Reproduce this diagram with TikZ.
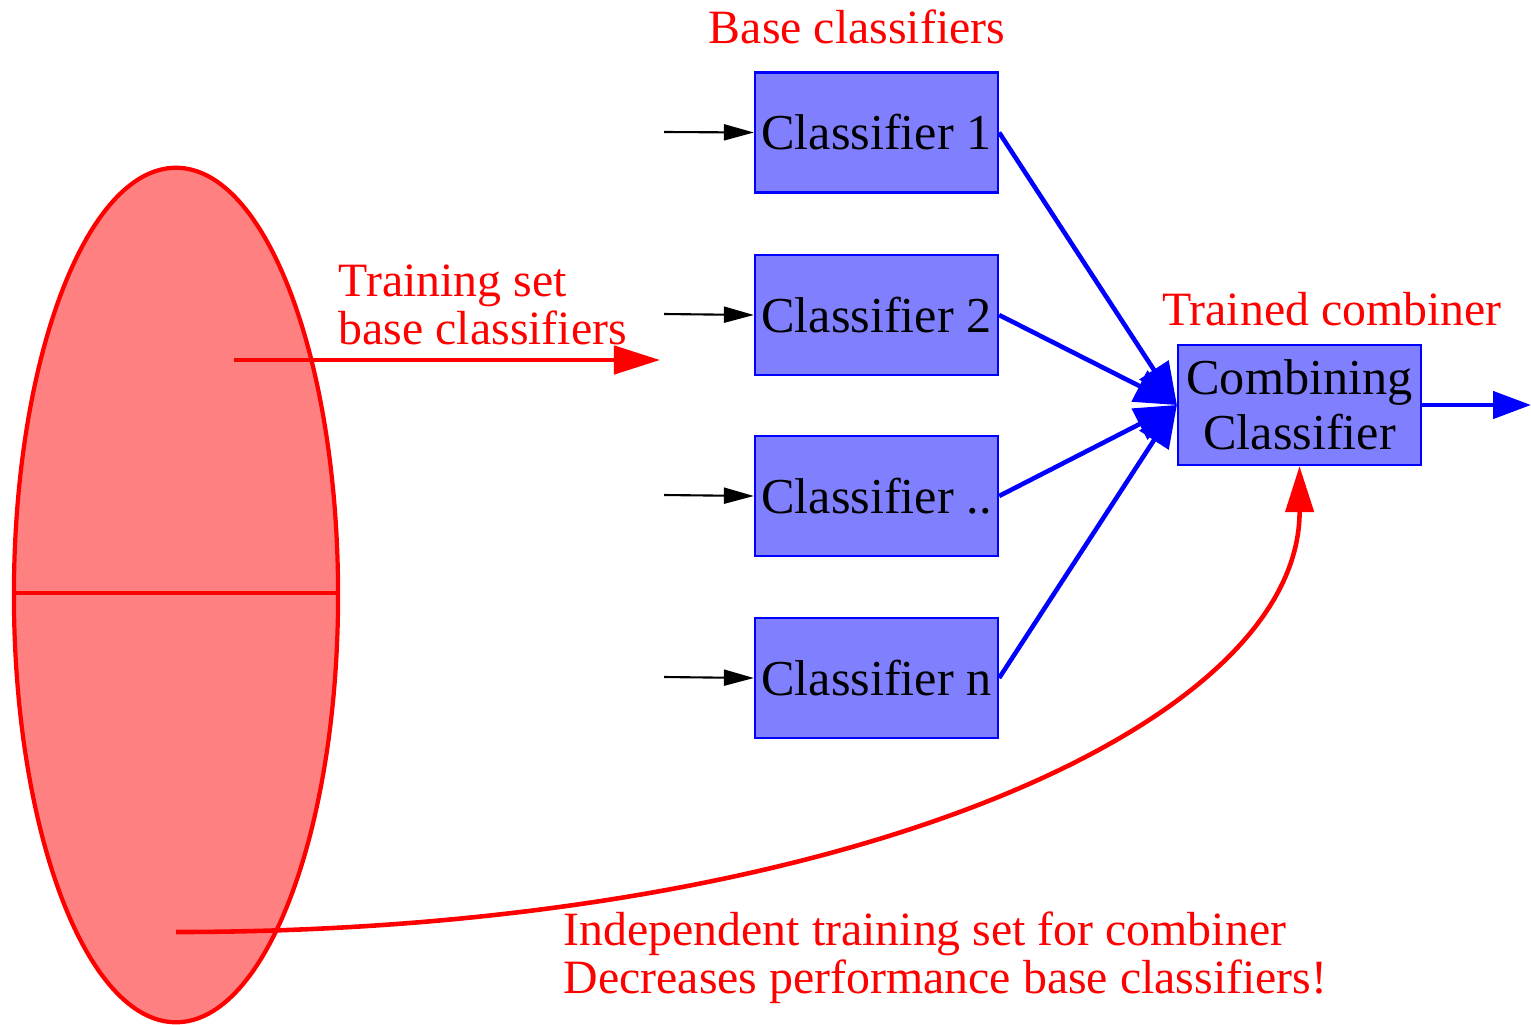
\documentclass[tikz,border=0pt]{standalone}
\usepackage{fontspec}
\setmainfont{Liberation Serif}
\usetikzlibrary{positioning,arrows.meta}
\definecolor{clfBlue}{RGB}{128,128,255}
\definecolor{setRed}{RGB}{255,128,128}

\begin{document}
\begin{tikzpicture}[x=0.01cm, y=-0.01cm,
  clf/.style={draw=blue, fill=clfBlue, line width=0.6pt, minimum width=2.43cm,
    minimum height=1.2cm, inner sep=0pt, font=\fontsize{14.3}{15.6}\selectfont},
  lbl/.style={text=red, inner sep=0pt, align=left, font=\fontsize{13.6}{13.4}\selectfont},
  feed/.style={-{Triangle[length=0.3cm,width=0.16cm]}, black, line width=0.6pt},
  vote/.style={-{Triangle[length=0.42cm,width=0.34cm]}, blue, line width=1.3pt},
  redarr/.style={-{Triangle[length=0.46cm,width=0.28cm]}, red, line width=1.3pt}]
  \useasboundingbox (0,0) rectangle (1531,1024);

  % Data set, split in two parts
  \filldraw[fill=setRed, draw=red, line width=1.2pt] (176,595) ellipse [x radius=1.62cm, y radius=4.27cm];
  \draw[red, line width=1.3pt] (12,593) -- (338,593);

  % Base classifiers
  \node[clf] (c1) at (876.5,132.5) {Classifier 1};
  \node[clf] (c2) at (876.5,315) {Classifier 2};
  \node[clf] (c3) at (876.5,496) {Classifier ..};
  \node[clf] (c4) at (876.5,678) {Classifier n};

  % Inputs
  \foreach \i/\y in {1/132,2/314,3/495,4/677} {
    \coordinate (in\i) at (664,\y);
    \draw[feed] (in\i) -- (c\i.west);
  }

  % Combiner
  \node[clf, align=center] (comb) at (1299.5,405) {Combining\\Classifier};
  \foreach \i in {1,...,4} {
    \draw[vote] (c\i.east) -- (comb.west);
  }
  \coordinate (out) at (1531,405);
  \draw[vote, -{Triangle[length=0.38cm,width=0.27cm]}] (comb.east) -- (out);

  % Training links
  \coordinate (trainTop) at (234,360);
  \coordinate (trainAim) at (660,360);
  \draw[redarr] (trainTop) -- (trainAim);
  \coordinate (trainLow) at (176,932);
  \draw[redarr] (trainLow) .. controls (826,932) and (1300,730) .. (comb.south);

  % Labels
  \node[lbl, anchor=base] (baseLbl) at (857,43) {Base classifiers};
  \node[lbl, anchor=base west] (trainLbl) at (338,344) {Training set\\base classifiers};
  \node[lbl, anchor=base] (combLbl) at (1332,325) {Trained combiner};
  \node[lbl, anchor=base west] (indepLbl) at (563,993) {Independent training set for combiner\\Decreases performance base classifiers!};
\end{tikzpicture}
\end{document}
